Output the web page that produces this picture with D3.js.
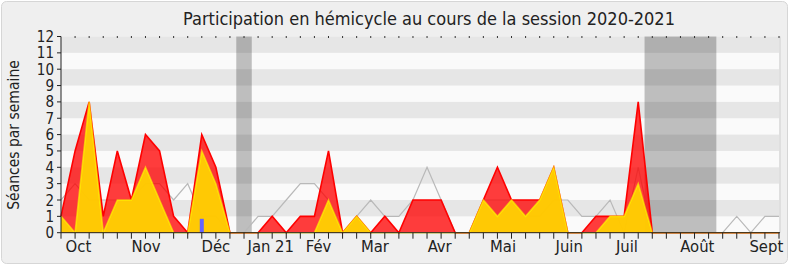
<!DOCTYPE html>
<html>
<head>
<meta charset="utf-8">
<script src="https://cdn.jsdelivr.net/npm/d3@7"></script>
<style>
  body { margin: 0; background: #fff; }
  text { font-family: "DejaVu Sans Condensed", "DejaVu Sans", sans-serif; font-stretch: condensed; fill: #222; }
</style>
</head>
<body>
<script>
// one value per week, session 2020-2021 (52 weeks)
var presences = [1,5,8,1,5,2,6,5,1,0,6,4,0,0,0,1,0,1,1,5,0,1,0,1,0,2,2,2,0,0,2,4,2,2,2,4,0,0,1,1,1,8,0,0,0,0,0,0,0,0,0,0];
var interventions = [1,0,8,0,2,2,4,2,0,0,5,3,0,0,0,0,0,0,0,2,0,1,0,0,0,0,0,0,0,0,2,1,2,1,2,4,0,0,0,1,1,3,0,0,0,0,0,0,0,0,0,0];
var mediane = [2,3,2,2,2,2,3,3,2,3,1,1,0,0,1,1,2,3,3,2,0,1,2,1,1,2,4,2,0,0,2,2,2,1,1,2,2,1,1,2,0,4,0,0,0,0,0,0,1,0,1,1];
var questions = [{week: 10, value: 0.85}];
var vacances = [[13, 13], [42, 46]];
var moisLabels = ["Oct", "Nov", "Déc", "Jan 21", "Fév", "Mar", "Avr", "Mai", "Juin", "Juil", "Août", "Sept"];
var moisPos = [1.24, 6.04, 11.0, 14.9, 18.3, 22.3, 26.9, 31.4, 36.1, 40.2, 45.2, 50.1];
var yTicks = [0,1,2,3,4,5,6,7,8,9,10,11,12];

var width = 790, height = 267;
var svg = d3.select("body").append("svg")
    .attr("width", width)
    .attr("height", height);

// frame
svg.append("rect")
    .attr("x", 1.5).attr("y", 1.5)
    .attr("width", width - 4).attr("height", height - 5)
    .attr("rx", 5)
    .attr("fill", "#efefef")
    .attr("stroke", "#d6d6d6");

var x = d3.scaleLinear().domain([0, 51]).range([61, 779]);
var y = d3.scaleLinear().domain([0, 12]).range([232.7, 36.5]);

// plot background + stripes
svg.append("rect")
    .attr("x", x(0)).attr("y", y(12))
    .attr("width", x(51) - x(0)).attr("height", y(0) - y(12))
    .attr("fill", "#fafafa");

svg.selectAll(".stripe")
    .data(yTicks.filter(function(d){ return d % 2 == 1; }))
    .enter().append("rect")
    .attr("class", "stripe")
    .attr("x", x(0))
    .attr("y", function(d){ return y(d + 1); })
    .attr("width", x(51) - x(0))
    .attr("height", function(d){ return y(d) - y(d + 1); })
    .attr("fill", "#e6e6e6");

// holidays
svg.selectAll(".vac")
    .data(vacances)
    .enter().append("rect")
    .attr("class", "vac")
    .attr("x", function(d){ return x(d[0] - 0.55); })
    .attr("y", y(12))
    .attr("width", function(d){ return x(d[1] + 0.55) - x(d[0] - 0.55); })
    .attr("height", y(0) - y(12))
    .attr("fill", "#000")
    .attr("fill-opacity", 0.24);

// right border of plot
svg.append("line")
    .attr("x1", x(51) + 1).attr("x2", x(51) + 1)
    .attr("y1", y(12)).attr("y2", y(0))
    .attr("stroke", "#cfcfcf");

// median line
var line = d3.line()
    .x(function(d, i){ return x(i); })
    .y(function(d){ return y(d); });

svg.append("path")
    .datum(mediane)
    .attr("d", line)
    .attr("fill", "none")
    .attr("stroke", "#b9b9b9")
    .attr("stroke-width", 1.2);

var area = d3.area()
    .x(function(d, i){ return x(i); })
    .y0(y(0))
    .y1(function(d){ return y(d); });

svg.append("path")
    .datum(presences)
    .attr("d", area)
    .attr("fill", "#ff0000")
    .attr("fill-opacity", 0.76);
svg.append("path")
    .datum(presences)
    .attr("d", line)
    .attr("fill", "none")
    .attr("stroke", "#ff0000")
    .attr("stroke-width", 1.6);

svg.append("path")
    .datum(interventions)
    .attr("d", area)
    .attr("fill", "#ffd400")
    .attr("fill-opacity", 0.93);
svg.append("path")
    .datum(interventions)
    .attr("d", line)
    .attr("fill", "none")
    .attr("stroke", "#ffff00")
    .attr("stroke-opacity", 0.6)
    .attr("stroke-width", 1.6);

// questions orales
svg.selectAll(".q")
    .data(questions)
    .enter().append("rect")
    .attr("class", "q")
    .attr("x", function(d){ return x(d.week) - 2; })
    .attr("width", 4)
    .attr("y", function(d){ return y(d.value); })
    .attr("height", function(d){ return y(0) - y(d.value); })
    .attr("fill", "#6464ff");

// axes
var xAxis = svg.append("g").attr("transform", "translate(0," + y(0) + ")");
xAxis.append("line")
    .attr("x1", x(0)).attr("x2", x(51) + 1)
    .attr("stroke", "#222");
xAxis.selectAll(".tick")
    .data(d3.range(0, 52))
    .enter().append("line")
    .attr("x1", function(d){ return x(d); })
    .attr("x2", function(d){ return x(d); })
    .attr("y1", 0).attr("y2", 6)
    .attr("stroke", "#222");
xAxis.selectAll(".mois")
    .data(moisLabels)
    .enter().append("text")
    .attr("x", function(d, i){ return x(moisPos[i]); })
    .attr("y", 19)
    .attr("text-anchor", "middle")
    .attr("font-size", 16.5)
    .text(function(d){ return d; });

// top dots
svg.selectAll(".topTick")
    .data(d3.range(1, 52))
    .enter().append("rect")
    .attr("x", function(d){ return x(d) - 0.5; })
    .attr("y", y(12) - 0.5)
    .attr("width", 1).attr("height", 2)
    .attr("fill", "#333");

var yAxis = svg.append("g");
yAxis.append("line")
    .attr("x1", x(0)).attr("x2", x(0))
    .attr("y1", y(12)).attr("y2", y(0))
    .attr("stroke", "#222");
yAxis.selectAll(".ytick")
    .data(yTicks)
    .enter().append("line")
    .attr("x1", x(0) - 4).attr("x2", x(0))
    .attr("y1", function(d){ return y(d); })
    .attr("y2", function(d){ return y(d); })
    .attr("stroke", "#222");
yAxis.selectAll(".ylab")
    .data(yTicks)
    .enter().append("text")
    .attr("x", 54)
    .attr("y", function(d){ return y(d) + 5.5; })
    .attr("text-anchor", "end")
    .attr("font-size", 15)
    .text(function(d){ return d; });

svg.append("text")
    .attr("transform", "translate(19,135) rotate(-90)")
    .attr("text-anchor", "middle")
    .attr("font-size", 15.5)
    .text("Séances par semaine");

svg.append("text")
    .attr("x", 429)
    .attr("y", 25)
    .attr("text-anchor", "middle")
    .attr("font-size", 18)
    .text("Participation en hémicycle au cours de la session 2020-2021");
</script>
</body>
</html>
